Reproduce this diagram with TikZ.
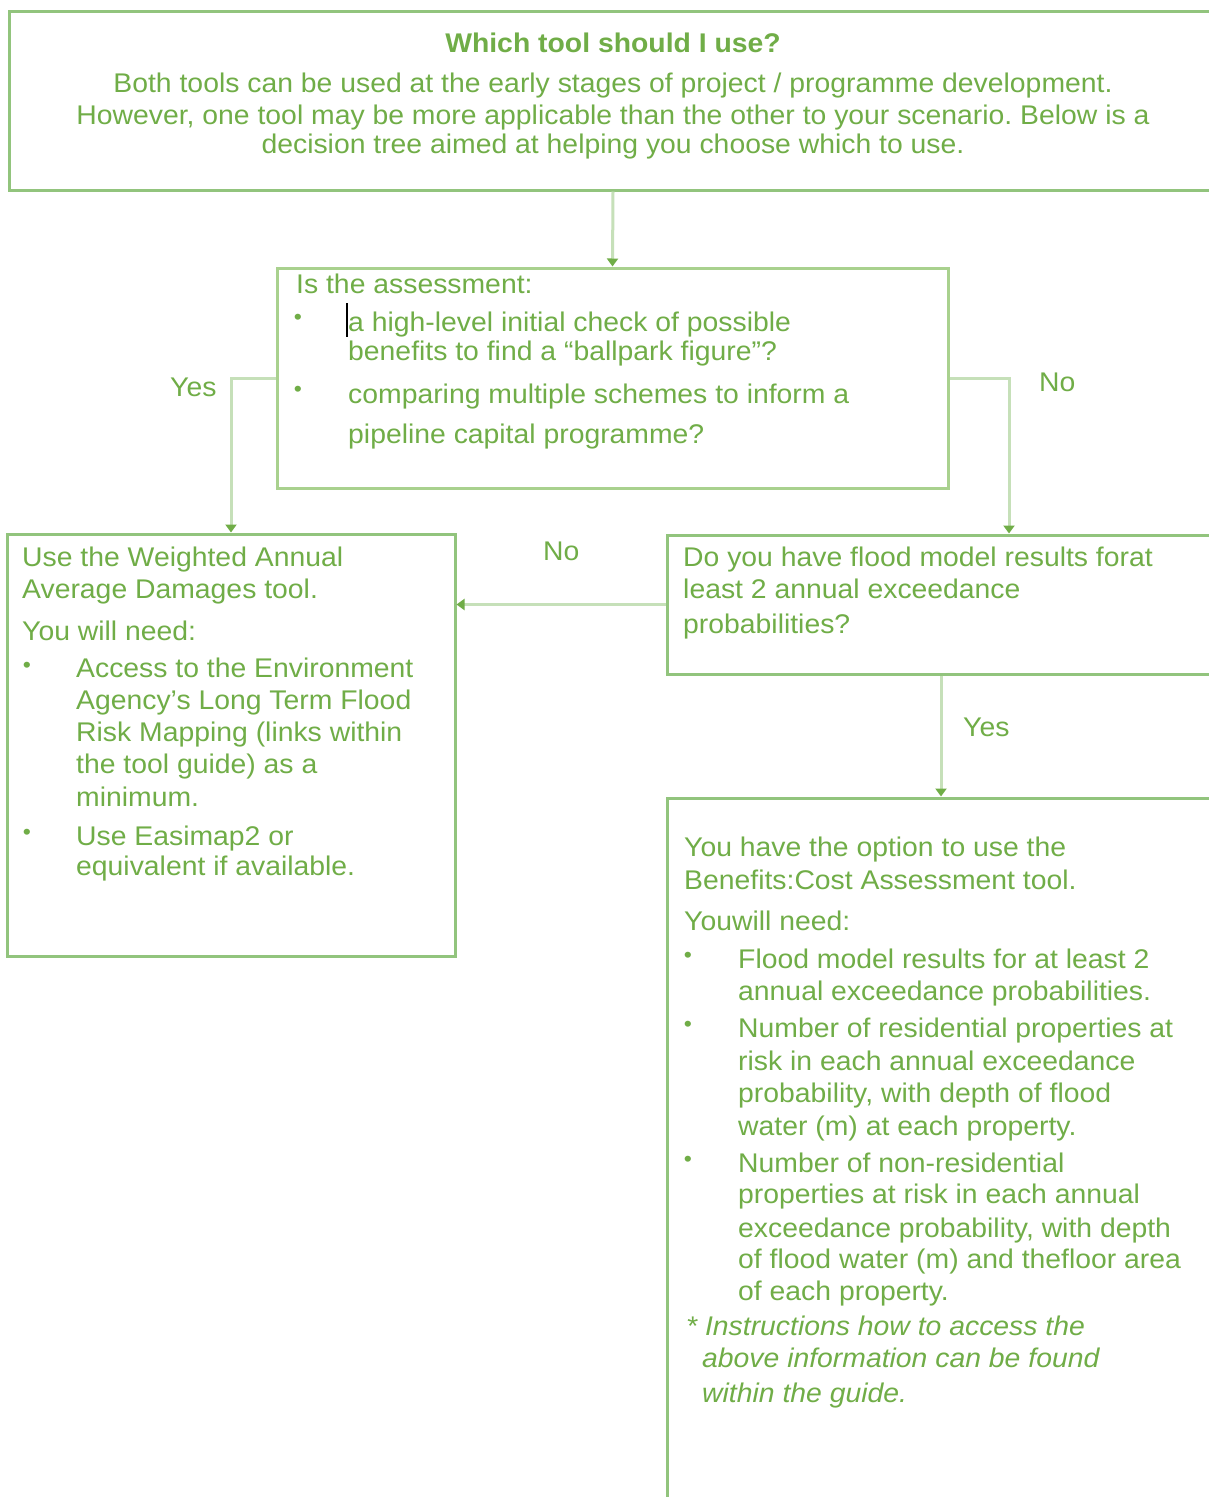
\documentclass[tikz,border=0pt]{standalone}
\usepackage{fontspec}
\setmainfont{Liberation Sans}[FakeStretch=1.05]
\usetikzlibrary{arrows.meta}
\definecolor{txt}{HTML}{70AD47}
\definecolor{brd}{HTML}{92C47D}
\definecolor{brdl}{HTML}{A9D18E}
\definecolor{cn}{HTML}{C6E0B9}
\frenchspacing
\tikzset{
  box/.style={draw=brd, line width=3pt, inner sep=0pt},
  conn/.style={draw=cn, line width=3pt, -{Triangle[length=8pt,width=11pt,color=txt]}},
  tx/.style={text=txt, inner sep=0pt, align=left, font=\fontsize{27}{32}\selectfont, anchor=base west},
  bul/.style={text=txt, inner sep=0pt, font=\fontsize{22}{22}\selectfont, anchor=center},
}
\begin{document}
\frenchspacing
\begin{tikzpicture}
\useasboundingbox (0,0) rectangle (1209pt,-1497pt);
\fill[white] (0,0) rectangle (1209pt,-1497pt);
\clip (0,0) rectangle (1209pt,-1497pt);
\begin{scope}[x=1pt,y=1pt]
% boxes
\node[box, minimum width=1208pt, minimum height=179pt] (top) at (613,-100.5) {};
\node[box, draw=brdl, minimum width=671pt, minimum height=220.5pt] (q) at (612.5,-378.25) {};
\node[box, minimum width=448pt, minimum height=422pt] (l) at (231,-745) {};
\node[box, minimum width=548pt, minimum height=139pt] (r1) at (941,-604.5) {};
\node[box, minimum width=548pt, minimum height=722pt] (r2) at (941,-1159) {};
% connectors
\draw[conn] (top.south) -- (q.north);
\draw[conn] (q.west) -| (l.north);
\draw[conn] (q.east) -| ([xshift=68pt]r1.north);
\draw[conn] (r1.west) -- (r1.west -| l.east);
\draw[conn] (r1.south) -- (r2.north);
% labels
\node[tx] (yes1) at (170,-396) {Yes};
\node[tx] (no1) at (1039,-391) {No};
\node[tx] (no2) at (543,-560) {No};
\node[tx] (yes2) at (963,-736) {Yes};
% top box text (multi-line nodes are placed by their last baseline)
\node[tx, anchor=base, font=\bfseries\fontsize{27}{32}\selectfont] (title) at (613,-52) {Which tool should I use?};
\node[tx, anchor=base, align=center] (intro) at (613,-153) {Both tools can be used at the early stages of project / programme development.\\However, one tool may be more applicable than the other to your scenario. Below is a\\[-3pt]decision tree aimed at helping you choose which to use.};
% question box text
\node[tx] (qh) at (296,-293) {Is the assessment:};
\node[bul] (qb1) at (298,-319) {•};
\node[tx] (q1) at (348,-360) {a high-level initial check of possible\\[-3pt]benefits to find a “ballpark figure”?};
\node[bul] (qb2) at (298,-391) {•};
\node[tx] (q2) at (348,-443) {comparing multiple schemes to inform a\\[8pt]pipeline capital programme?};
\draw[black, line width=2.5pt] (347,-303) -- (347,-337);
% left box text
\node[tx] (l1) at (22,-598) {Use the Weighted Annual\\Average Damages tool.};
\node[tx] (l2) at (22,-640) {You will need:};
\node[bul] (lb1) at (27,-667) {•};
\node[tx] (l3) at (76,-806) {Access to the Environment\\Agency’s Long Term Flood\\[-0.5pt]Risk Mapping (links within\\the tool guide) as a\\[1pt]minimum.};
\node[bul] (lb2) at (27,-834) {•};
\node[tx] (l4) at (76,-875) {Use Easimap2 or\\[-2pt]equivalent if available.};
% right box 1 text
\node[tx] (r1t) at (683,-633) {Do you have flood model results forat\\least 2 annual exceedance\\[3pt]probabilities?};
% right box 2 text
\node[tx] (r2a) at (684,-889) {You have the option to use the\\[1pt]Benefits:Cost Assessment tool.};
\node[tx] (r2b) at (684,-930) {Youwill need:};
\node[bul] (rb1) at (688,-957) {•};
\node[tx] (r2c) at (738,-1000) {Flood model results for at least 2\\annual exceedance probabilities.};
\node[bul] (rb2) at (688,-1026) {•};
\node[tx] (r2d) at (738,-1135) {Number of residential properties at\\[1pt]risk in each annual exceedance\\probability, with depth of flood\\[1pt]water (m) at each property.};
\node[bul] (rb3) at (688,-1161) {•};
\node[tx] (r2e) at (738,-1300) {Number of non-residential\\[-1pt]properties at risk in each annual\\[2pt]exceedance probability, with depth\\[-1pt]of flood water (m) and thefloor area\\of each property.};
\node[tx, font=\itshape\fontsize{27}{32}\selectfont] (r2f) at (686,-1402) {* Instructions how to access the\\\hspace*{16pt}above information can be found\\[3pt]\hspace*{16pt}within the guide.};
\end{scope}
\end{tikzpicture}
\end{document}
